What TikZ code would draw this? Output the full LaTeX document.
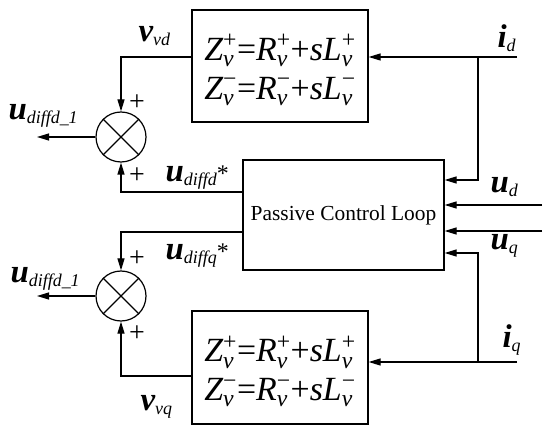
\documentclass[tikz,border=0pt]{standalone}
\usepackage{fontspec}
\setmainfont{Liberation Serif}
\usepackage{amsmath}
\usetikzlibrary{arrows.meta,calc}
\newcommand\mainl[1]{{\fontsize{33}{33}\selectfont\bfseries\itshape #1}}
\newcommand\subl[1]{\raisebox{-4bp}{\fontsize{18}{18}\selectfont\itshape #1}}
\newcommand\zv[2]{$\text{\itshape #1}^{\text{#2}}_{\text{\itshape v}}$}
\newcommand\eqlines{\zv{Z}{+}=\zv{R}{+}+\textit{s}\zv{L}{+}\\[1bp]\zv{Z}{−}=\zv{R}{−}+\textit{s}\zv{L}{−}}
\begin{document}
\begin{tikzpicture}[x=1bp,y=-1bp, line width=1.2bp,
  >={Triangle[length=12bp,width=7bp]},
  blk/.style={draw, inner sep=0pt},
  eqbox/.style={blk, minimum width=176bp, align=center, font=\fontsize{34}{38}\selectfont},
  sumj/.style={draw, circle, minimum size=50bp, inner sep=0pt},
  lbl/.style={inner sep=0pt, anchor=base west},
  pls/.style={inner sep=0pt, font=\fontsize{28}{28}\selectfont}]
\useasboundingbox (0,0) rectangle (550,434);
% blocks
\node[eqbox, minimum height=112bp] (zt) at (280,66) {};
\node[eqbox, minimum height=113bp] (zb) at (280,367.5) {};
\node[eqbox, draw=none, anchor=center] (et) at ($(zt.center)+(0,4)$) {\eqlines};
\node[eqbox, draw=none, anchor=center] (eb) at ($(zb.center)+(0,4)$) {\eqlines};
\node[blk, minimum width=201bp, minimum height=110bp, font=\fontsize{21.5}{24}\selectfont] (pc) at (343.5,215) {Passive Control Loop};
% summing junctions
\node[sumj] (s1) at (121,137) {};
\draw (s1.45) -- (s1.225) (s1.135) -- (s1.315);
\node[sumj] (s2) at (121,296) {};
\draw (s2.45) -- (s2.225) (s2.135) -- (s2.315);
% connectors on the left
\draw[->] ($(zt.west)+(0,-9)$) -| (s1.north);
\draw[->] ($(pc.west)+(0,-23)$) -| (s1.south);
\draw[->] ($(pc.west)+(0,17)$) -| (s2.north);
\draw[->] ($(zb.west)+(0,8.5)$) -| (s2.south);
\coordinate (o1) at (37,137);
\coordinate (o2) at (37,296);
\draw[->] (s1.west) -- (o1);
\draw[->] (s2.west) -- (o2);
% inputs on the right
\coordinate (id) at (517,57);
\coordinate (bd) at (478,57);
\coordinate (ud) at (542,205);
\coordinate (uq) at (542,231);
\coordinate (iq) at (517,362);
\coordinate (bq) at (478,362);
\draw[->] (id) -- (zt.east |- id);
\draw[->] (bd) |- ($(pc.east)+(0,-35)$);
\draw[->] (ud) -- (pc.east |- ud);
\draw[->] (uq) -- (pc.east |- uq);
\draw[->] (iq) -- (zb.east |- iq);
\draw[->] (bq) |- ($(pc.east)+(0,38)$);
% labels
\node[lbl] (lvd) at (138,42) {\mainl{v}\subl{vd}};
\node[lbl] (lo1) at (8,120) {\mainl{u}\subl{diffd\_1}};
\node[lbl] (lds) at (165,182) {\mainl{u}\subl{diffd}{\fontsize{24}{24}\selectfont *}};
\node[lbl] (lqs) at (165,260) {\mainl{u}\subl{diffq}{\fontsize{24}{24}\selectfont *}};
\node[lbl] (lo2) at (10,282) {\mainl{u}\subl{diffd\_1}};
\node[lbl] (lvq) at (140,410) {\mainl{v}\subl{vq}};
\node[lbl] (lid) at (497,48) {\mainl{i}\subl{d}};
\node[lbl] (lud) at (490,193) {\mainl{u}\subl{d}};
\node[lbl] (luq) at (490,250) {\mainl{u}\subl{q}};
\node[lbl] (liq) at (502,347) {\mainl{i}\subl{q}};
\node[pls] (p1) at (137,103) {+};
\node[pls] (p2) at (137,176) {+};
\node[pls] (p3) at (137,259) {+};
\node[pls] (p4) at (137,334) {+};
\end{tikzpicture}
\end{document}
